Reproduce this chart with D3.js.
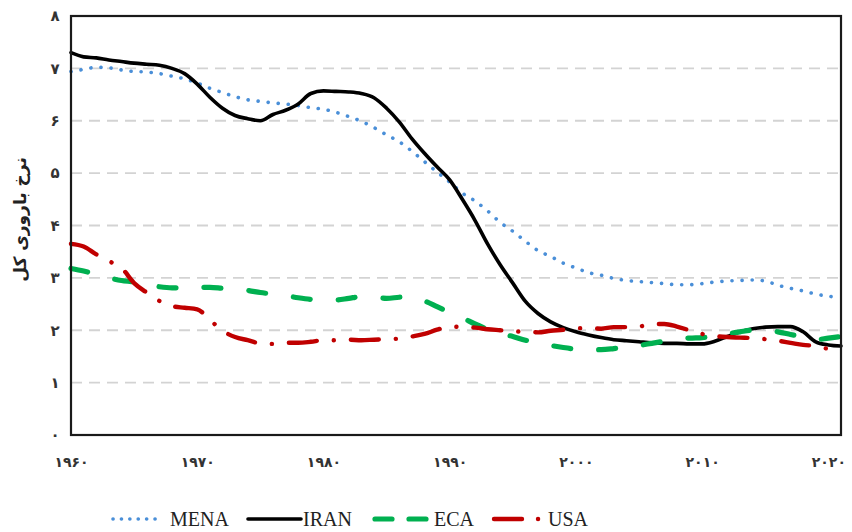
<!DOCTYPE html>
<html>
<head>
<meta charset="utf-8">
<script src="https://cdn.jsdelivr.net/npm/d3@7/dist/d3.min.js"></script>
<style>
  html, body { margin: 0; padding: 0; background: #fff; }
  svg { display: block; }
</style>
</head>
<body>
<svg id="chart" width="852" height="532"></svg>
<script>
const years = d3.range(1960, 2022);
const xTickYears = [1960, 1970, 1980, 1990, 2000, 2010, 2020];
const xTickLabels = ["۱۹۶۰", "۱۹۷۰", "۱۹۸۰", "۱۹۹۰", "۲۰۰۰", "۲۰۱۰", "۲۰۲۰"];
const yTicks = [0, 1, 2, 3, 4, 5, 6, 7, 8];
const yTickLabels = ["۰", "۱", "۲", "۳", "۴", "۵", "۶", "۷", "۸"];
const yTitle = "نرخ باروری کل";
const seriesNames = ["MENA", "IRAN", "ECA", "USA"];

const mena = [6.94, 6.98, 7.02, 7.01, 6.97, 6.94, 6.93, 6.90, 6.85, 6.80,
  6.72, 6.62, 6.54, 6.46, 6.40, 6.37, 6.34, 6.32, 6.29, 6.25,
  6.22, 6.16, 6.08, 5.99, 5.87, 5.73, 5.60, 5.42, 5.22, 5.02,
  4.83, 4.62, 4.47, 4.28, 4.06, 3.89, 3.70, 3.52, 3.41, 3.28,
  3.19, 3.10, 3.05, 2.99, 2.95, 2.93, 2.91, 2.89, 2.87, 2.87,
  2.89, 2.92, 2.94, 2.95, 2.96, 2.94, 2.86, 2.80, 2.75, 2.69,
  2.65, 2.62];
const iran = [7.30, 7.22, 7.20, 7.16, 7.13, 7.10, 7.08, 7.06, 7.00, 6.90,
  6.70, 6.45, 6.24, 6.10, 6.04, 6.00, 6.12, 6.20, 6.32, 6.52,
  6.57, 6.56, 6.55, 6.52, 6.44, 6.24, 5.98, 5.66, 5.38, 5.12,
  4.87, 4.50, 4.10, 3.65, 3.25, 2.90, 2.55, 2.32, 2.16, 2.05,
  1.97, 1.91, 1.86, 1.82, 1.80, 1.78, 1.76, 1.75, 1.75, 1.74,
  1.74, 1.79, 1.88, 1.97, 2.03, 2.06, 2.07, 2.07, 1.97, 1.78,
  1.72, 1.70];
const eca = [3.18, 3.13, 3.07, 3.00, 2.95, 2.92, 2.87, 2.83, 2.81, 2.81,
  2.82, 2.82, 2.80, 2.78, 2.76, 2.72, 2.69, 2.66, 2.62, 2.59,
  2.58, 2.58, 2.61, 2.64, 2.63, 2.61, 2.63, 2.64, 2.56, 2.45,
  2.34, 2.24, 2.12, 2.02, 1.94, 1.88, 1.81, 1.76, 1.71, 1.67,
  1.64, 1.63, 1.63, 1.65, 1.68, 1.71, 1.75, 1.79, 1.83, 1.85,
  1.86, 1.88, 1.93, 1.97, 2.00, 2.00, 1.97, 1.92, 1.87, 1.82,
  1.85, 1.88];
const usa = [3.65, 3.60, 3.45, 3.32, 3.19, 2.90, 2.72, 2.56, 2.46, 2.43,
  2.40, 2.20, 1.99, 1.87, 1.81, 1.75, 1.74, 1.76, 1.76, 1.78,
  1.81, 1.81, 1.82, 1.81, 1.82, 1.83, 1.84, 1.88, 1.93, 2.01,
  2.07, 2.06, 2.05, 2.02, 2.00, 1.98, 1.97, 1.96, 1.99, 2.01,
  2.04, 2.04, 2.03, 2.06, 2.06, 2.07, 2.12, 2.12, 2.07, 2.00,
  1.93, 1.89, 1.87, 1.86, 1.85, 1.83, 1.80, 1.76, 1.72, 1.70,
  1.65, 1.66];

(function () {
const seriesValues = [mena, iran, eca, usa];
const styles = [
  { color: "#4a8fd8", width: 3.6, dash: "0.1 10", cap: "round" },
  { color: "#000000", width: 3.6, dash: null, cap: "round" },
  { color: "#00b050", width: 5.2, dash: "17 28", cap: "round" },
  { color: "#c00000", width: 4.4, dash: "28 17 0.1 17", cap: "round" }
];

const svg = d3.select("#chart");
const pLeft = 71, pRight = 841, pTop = 16, pBottom = 435;

const x = d3.scaleLinear().domain([1960, 2021]).range([pLeft, pRight]);
const y = d3.scaleLinear().domain([0, 8]).range([pBottom, pTop]);

// gridlines
svg.append("g")
  .selectAll("line")
  .data(yTicks.filter(t => t > 0 && t < 8))
  .join("line")
  .attr("x1", pLeft).attr("x2", pRight)
  .attr("y1", d => y(d)).attr("y2", d => y(d))
  .attr("stroke", "#d3d3d3")
  .attr("stroke-width", 1.8)
  .attr("stroke-dasharray", "11 7");

// y axis labels
const yAxis = d3.axisLeft(y).tickValues(yTicks).tickSize(0).tickPadding(12)
  .tickFormat((d, i) => yTickLabels[i]);
const gy = svg.append("g").attr("transform", `translate(${pLeft},0)`).call(yAxis);
gy.select(".domain").remove();
gy.selectAll("text")
  .attr("font-family", "DejaVu Sans")
  .attr("font-size", 15)
  .attr("font-weight", "bold")
  .attr("fill", "#333")
  .attr("text-anchor", "middle")
  .attr("x", -16);

// x axis labels
const xAxis = d3.axisBottom(x).tickValues(xTickYears).tickSize(0).tickPadding(22)
  .tickFormat((d, i) => xTickLabels[i]);
const gx = svg.append("g").attr("transform", `translate(0,${pBottom})`).call(xAxis);
gx.select(".domain").remove();
gx.selectAll("text")
  .attr("font-family", "DejaVu Sans")
  .attr("font-size", 14)
  .attr("font-weight", "bold")
  .attr("fill", "#333");

// y title
svg.append("text")
  .attr("transform", `translate(26,${(pTop + pBottom) / 2 - 6}) rotate(-90)`)
  .attr("text-anchor", "middle")
  .attr("font-family", "DejaVu Sans")
  .attr("font-size", 17)
  .attr("font-weight", "bold")
  .attr("fill", "#222")
  .text(yTitle);

// lines
const line = d3.line()
  .x((d, i) => x(years[i]))
  .y(d => y(d))
  .curve(d3.curveMonotoneX);

svg.append("g")
  .selectAll("path")
  .data(seriesValues)
  .join("path")
  .attr("d", d => line(d))
  .attr("fill", "none")
  .attr("stroke", (d, i) => styles[i].color)
  .attr("stroke-width", (d, i) => styles[i].width)
  .attr("stroke-dasharray", (d, i) => styles[i].dash)
  .attr("stroke-linecap", (d, i) => styles[i].cap)
  .attr("stroke-linejoin", "round");

// frame
svg.append("rect")
  .attr("x", pLeft).attr("y", pTop)
  .attr("width", pRight - pLeft).attr("height", pBottom - pTop)
  .attr("fill", "none")
  .attr("stroke", "#1a1a1a")
  .attr("stroke-width", 2.2);

// legend
const legendItems = [
  { sx: 113, ex: 162, tx: 170 },
  { sx: 248, ex: 301, tx: 303 },
  { sx: 375, ex: 432, tx: 434 },
  { sx: 494, ex: 540, tx: 548 }
];
const ly = 519;
const lg = svg.append("g");
const legendDash = ["0.1 8.3", null, "17 17", "28 16 0.1 40"];
seriesNames.forEach((name, i) => {
  const it = legendItems[i];
  lg.append("line")
    .attr("x1", it.sx).attr("x2", it.ex)
    .attr("y1", ly).attr("y2", ly)
    .attr("stroke", styles[i].color)
    .attr("stroke-width", styles[i].width)
    .attr("stroke-dasharray", legendDash[i])
    .attr("stroke-linecap", "round");
  lg.append("text")
    .attr("x", it.tx).attr("y", ly + 7)
    .attr("font-family", "Liberation Serif")
    .attr("font-size", 20)
    .attr("fill", "#222")
    .text(name);
});
})();
</script>
</body>
</html>
